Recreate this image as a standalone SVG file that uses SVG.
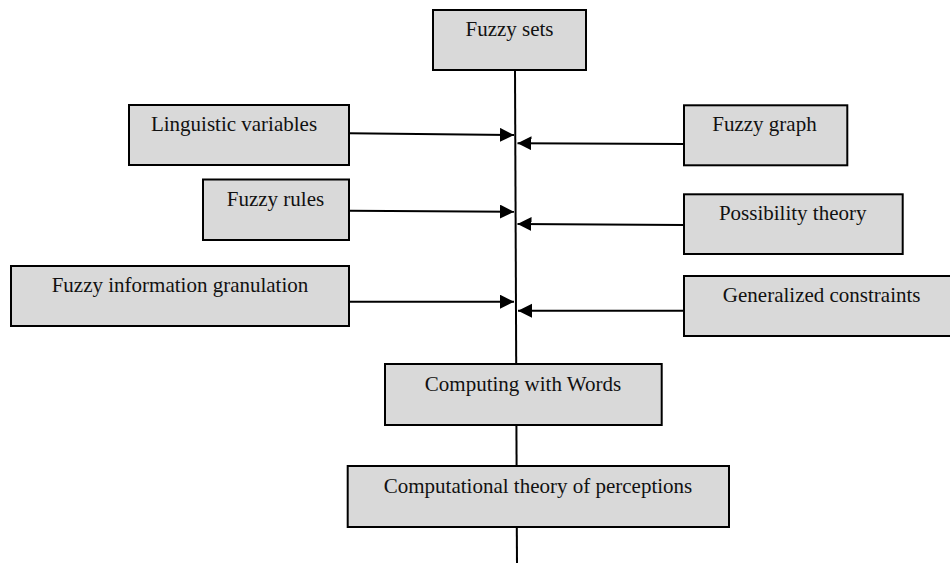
<svg xmlns="http://www.w3.org/2000/svg" width="950" height="563" viewBox="0 0 950 563">
<defs>
<style>
.box{fill:#d9d9d9;stroke:#000;stroke-width:2}
.lbl{font-family:"Liberation Serif","Times New Roman",serif;font-size:21px;fill:#111;text-anchor:middle}
.ln{stroke:#000;stroke-width:2;fill:none}
</style>
<marker id="ah" markerUnits="userSpaceOnUse" markerWidth="15" markerHeight="15" refX="14" refY="7" orient="auto">
<path d="M0,0 L14,7 L0,14 z" fill="#000"/>
</marker>
</defs>
<rect width="950" height="563" fill="#fff"/>
<g id="connectors">
<line class="ln" x1="515" y1="70" x2="516.2" y2="364"/>
<line class="ln" x1="516.4" y1="425" x2="516.6" y2="466"/>
<line class="ln" x1="516.8" y1="527" x2="517" y2="563"/>
<line class="ln" x1="349" y1="133.3" x2="514" y2="135" marker-end="url(#ah)"/>
<line class="ln" x1="349" y1="210.7" x2="514" y2="211.7" marker-end="url(#ah)"/>
<line class="ln" x1="349" y1="301.7" x2="514" y2="301.7" marker-end="url(#ah)"/>
<line class="ln" x1="684" y1="144" x2="517.5" y2="143.3" marker-end="url(#ah)"/>
<line class="ln" x1="684" y1="225" x2="517.5" y2="224" marker-end="url(#ah)"/>
<line class="ln" x1="684" y1="310.7" x2="518" y2="310.7" marker-end="url(#ah)"/>
</g>
<g id="fuzzy-sets"><rect class="box" x="433" y="10" width="153" height="60"/><text class="lbl" x="509.5" y="36">Fuzzy sets</text></g>
<g id="linguistic-variables"><rect class="box" x="129" y="105" width="220" height="60"/><text class="lbl" x="234" y="131">Linguistic variables</text></g>
<g id="fuzzy-rules"><rect class="box" x="203" y="179.5" width="146" height="60.5"/><text class="lbl" x="275.5" y="206">Fuzzy rules</text></g>
<g id="fuzzy-information-granulation"><rect class="box" x="11" y="266" width="338" height="60"/><text class="lbl" x="180" y="292">Fuzzy information granulation</text></g>
<g id="fuzzy-graph"><rect class="box" x="684" y="105.3" width="163.3" height="60"/><text class="lbl" x="764.5" y="131">Fuzzy graph</text></g>
<g id="possibility-theory"><rect class="box" x="684" y="194.3" width="218.7" height="59.7"/><text class="lbl" x="792.7" y="220">Possibility theory</text></g>
<g id="generalized-constraints"><rect class="box" x="684" y="276" width="275" height="60"/><text class="lbl" x="821.7" y="302">Generalized constraints</text></g>
<g id="computing-with-words"><rect class="box" x="385" y="364" width="276.7" height="61"/><text class="lbl" x="523" y="391">Computing with Words</text></g>
<g id="computational-theory-of-perceptions"><rect class="box" x="347.7" y="466" width="381.3" height="61"/><text class="lbl" x="538" y="493">Computational theory of perceptions</text></g>
</svg>
